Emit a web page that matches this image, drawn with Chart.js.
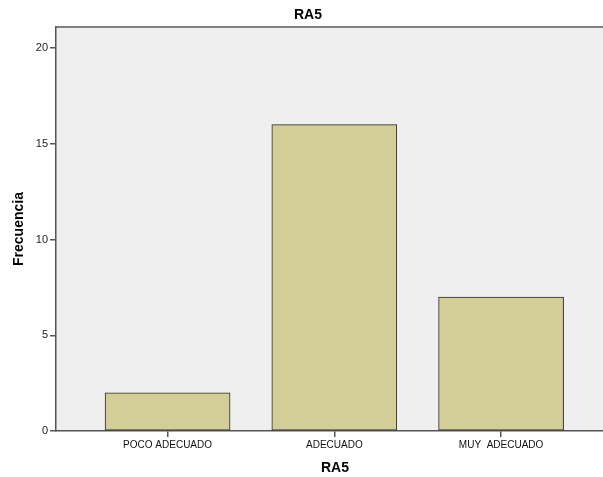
<!DOCTYPE html>
<html>
<head>
<meta charset="utf-8">
<script src="https://cdn.jsdelivr.net/npm/chart.js@4.4.1/dist/chart.umd.min.js"></script>
<style>
  html, body { margin: 0; padding: 0; background: #fff; overflow: hidden; }
  #wrap { width: 614px; height: 477px; }
</style>
</head>
<body>
<div id="wrap"><canvas id="myChart" width="614" height="477"></canvas></div>
<script>
// données
const categories = ['POCO ADECUADO', 'ADECUADO', 'MUY  ADECUADO'];
const frecuencias = [2, 16, 7];
const yTicks = [0, 5, 10, 15, 20];
const chartTitle = 'RA5';
const xTitle = 'RA5';
const yTitle = 'Frecuencia';

const font = 'Liberation Sans, Arial, sans-serif';
const axisColor = '#555555';

// fond gris de la zone de tracé + ligne du haut + titre
const plotBg = {
    id: 'plotBg',
    beforeDraw(chart) {
        const { ctx, chartArea: a } = chart;
        ctx.save();
        ctx.fillStyle = '#efefef';
        ctx.fillRect(a.left, a.top, a.right - a.left, a.bottom - a.top);
        ctx.strokeStyle = '#7f7f7f';
        ctx.lineWidth = 2;
        ctx.beginPath();
        ctx.moveTo(a.left, a.top);
        ctx.lineTo(a.right, a.top);
        ctx.stroke();
        ctx.restore();
    },
    afterDraw(chart) {
        const { ctx } = chart;
        ctx.save();
        ctx.fillStyle = '#000';
        ctx.font = 'bold 14px ' + font;
        ctx.textAlign = 'center';
        ctx.textBaseline = 'middle';
        ctx.fillText(chartTitle, chart.width / 2 + 1, 15.5);
        ctx.restore();
    }
};

const config = {
    type: 'bar',
    data: {
        datasets: [{
            label: 'Frecuencia',
            data: frecuencias.map((v, i) => ({ x: i + 1, y: v })),
            backgroundColor: '#d3ce98',
            borderColor: '#2a2a2a',
            borderWidth: 1,
            borderSkipped: false,
            barThickness: 125
        }]
    },
    options: {
        responsive: false,
        animation: false,
        layout: { padding: { top: 27, right: 0, left: 0, bottom: 0 } },
        scales: {
            x: {
                type: 'linear',
                offset: false,
                min: 0.331,
                max: 3.677,
                afterBuildTicks: (axis) => { axis.ticks = categories.map((c, i) => ({ value: i + 1 })); },
                afterFit: (scale) => { scale.height = 46; },
                grid: { offset: false, drawOnChartArea: false, drawTicks: true, tickLength: 6, color: axisColor, lineWidth: 1.5 },
                border: { display: true, color: axisColor, width: 1.5 },
                ticks: {
                    color: '#111',
                    font: { family: font, size: 10 },
                    padding: 2,
                    maxRotation: 0,
                    callback: (v) => categories[v - 1]
                },
                title: {
                    display: true,
                    text: xTitle,
                    color: '#000',
                    font: { family: font, size: 14, weight: 'bold' },
                    padding: { top: 6, bottom: 0 }
                }
            },
            y: {
                min: 0,
                max: 21.1,
                afterBuildTicks: (axis) => { axis.ticks = yTicks.map(v => ({ value: v })); },
                afterFit: (scale) => { scale.width = 56; },
                grid: { drawOnChartArea: false, drawTicks: true, tickLength: 6, color: axisColor, lineWidth: 1.5 },
                border: { display: true, color: axisColor, width: 1.5 },
                ticks: {
                    color: '#222',
                    font: { family: font, size: 11 },
                    padding: 2
                },
                title: {
                    display: true,
                    text: yTitle,
                    color: '#000',
                    font: { family: font, size: 14, weight: 'bold' },
                    padding: { top: 11, bottom: 4 }
                }
            }
        },
        plugins: {
            legend: { display: false },
            tooltip: { enabled: false },
            title: { display: false }
        }
    },
    plugins: [plotBg]
};

let myChart = new Chart(document.getElementById('myChart'), config);
</script>
</body>
</html>
